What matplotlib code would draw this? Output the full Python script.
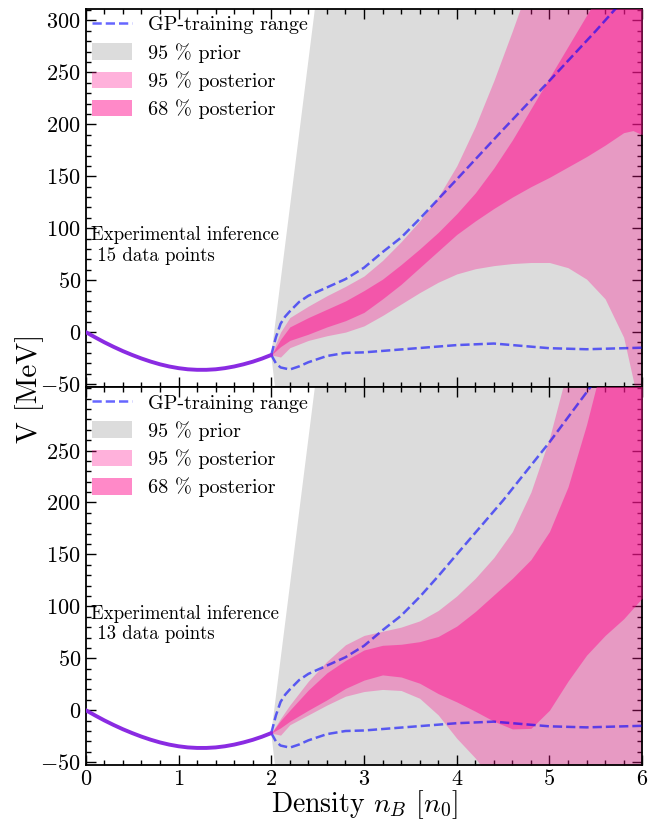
import matplotlib
matplotlib.use("Agg")
import matplotlib.pyplot as plt
from matplotlib.ticker import MultipleLocator

plt.rcParams['font.family'] = 'serif'
plt.rcParams['font.serif'] = ['cmr10', 'DejaVu Serif']
plt.rcParams['mathtext.fontset'] = 'cm'
plt.rcParams['axes.formatter.use_mathtext'] = True
plt.rcParams['axes.unicode_minus'] = True

# ---------------- data ----------------
# known low-density potential
x_low = [0.0, 0.1, 0.2, 0.3, 0.4, 0.5, 0.6, 0.7, 0.8, 0.9, 1.0, 1.1, 1.2,
         1.3, 1.4, 1.5, 1.6, 1.7, 1.8, 1.9, 2.0]
v_low = [0.0, -5.0, -9.8, -14.2, -18.3, -22.0, -25.4, -28.4, -31.0, -33.1,
         -34.7, -35.8, -36.3, -36.3, -35.8, -34.7, -33.1, -31.0, -28.5, -25.5, -22.0]

# prior (95 %)
x_prior = [2.0, 6.0]
prior_hi = [-22, 2810]
prior_lo = [-22, -3122]

# GP-training range (dashed)
x_gp_hi = [2.0, 2.05, 2.1, 2.15, 2.2, 2.3, 2.4, 2.6, 2.8, 3.0, 3.2, 3.4, 3.6,
           3.8, 4.0, 4.5, 5.0, 5.5, 6.0]
gp_hi_15 = [-22, -5, 8, 15, 20, 29, 35, 43, 51, 62, 77, 91, 109, 128, 147, 195,
            242, 290, 340]
gp_hi_13 = [-22, -5, 8, 15, 20, 29, 35, 43, 51, 62, 77, 91, 109, 129, 150, 202,
            258, 318, 380]
x_gp_lo = [2.0, 2.05, 2.1, 2.2, 2.3, 2.4, 2.6, 2.8, 3.0, 3.5, 4.0, 4.4, 5.0, 5.4, 6.0]
gp_lo = [-22, -30, -34, -36, -33, -29, -23, -20, -19.5, -16, -12.5, -11, -15.5,
         -16.5, -15]

# posterior bands
x_band = [2.0, 2.1, 2.2, 2.4, 2.6, 2.8, 3.0, 3.2, 3.4, 3.6, 3.8, 4.0,
          4.2, 4.4, 4.6, 4.8, 5.0, 5.2, 5.4, 5.6, 5.8, 5.9, 6.0]

# 15 data points
p95_hi_15 = [-22, 0, 14, 25, 35, 44, 54, 69, 87, 107, 130, 160,
             198, 242, 290, 340, 392, 445, 500, 550, 600, 625, 650]
p95_lo_15 = [-22, -24, -15, -8, -3.5, 0, 6, 16, 27, 38, 48, 56,
             61, 64, 66, 67, 67, 62, 51, 32, -5, -45, -90]
p68_hi_15 = [-22, -7, 5, 14, 22, 30, 40, 51, 65, 80, 96, 114,
             134, 158, 185, 215, 245, 275, 305, 335, 365, 380, 395]
p68_lo_15 = [-22, -14, -8, -2, 5, 11, 19, 32, 46, 62, 78, 94,
             107, 119, 130, 140, 149, 159, 169, 180, 192, 194, 190]

# 13 data points
p95_hi_13 = [-22, -8, 5, 28, 47, 63, 72, 76, 80, 86, 96, 110,
             127, 147, 172, 210, 262, 330, 400, 470, 540, 575, 610]
p95_lo_13 = [-22, -24, -14, -4.5, 5, 13.5, 18, 20, 19, 11.5, -4.5, -27,
             -46, -70, -90, -100, -100, -100, -100, -100, -100, -100, -100]
p68_hi_13 = [-22, -10, 0, 19.5, 36, 48, 58, 62.5, 63.5, 66, 71, 81,
             95, 111, 127, 145, 172, 215, 275, 345, 415, 450, 485]
p68_lo_13 = [-22, -17, -10.6, 0, 10, 21, 29, 34, 32, 26, 16, 8,
             -1, -10.6, -18, -17.5, 0, 28, 53, 72, 88, 98, 108]

labels = ["GP-training range", "95 % prior", "95 % posterior", "68 % posterior"]
n_points = ["15", "13"]

# ---------------- figure ----------------
fig = plt.figure(figsize=(6.5, 8.22), dpi=100)
L, R = 0.132, 0.988
top, mid, bot = 0.989, 0.529, 0.069
ax1 = fig.add_axes([L, mid, R - L, top - mid])
ax2 = fig.add_axes([L, bot, R - L, mid - bot], sharex=ax1)

pink = '#ff1493'
gray = '#dcdcdc'
dash_col = 'blue'
purple = '#8a2be2'

bands = [(p95_hi_15, p95_lo_15, p68_hi_15, p68_lo_15, gp_hi_15),
         (p95_hi_13, p95_lo_13, p68_hi_13, p68_lo_13, gp_hi_13)]

for ax, (h95, l95, h68, l68, ghi), npts in zip([ax1, ax2], bands, n_points):
    hp = ax.fill_between(x_prior, prior_lo, prior_hi, color=gray, lw=0, zorder=1)
    h95p = ax.fill_between(x_band, l95, h95, color=pink, alpha=0.33, lw=0, zorder=2)
    h68p = ax.fill_between(x_band, l68, h68, color=pink, alpha=0.5, lw=0, zorder=3)
    hd, = ax.plot(x_gp_hi, ghi, ls='--', color=dash_col, alpha=0.6, lw=1.8, zorder=4)
    ax.plot(x_gp_lo, gp_lo, ls='--', color=dash_col, alpha=0.6, lw=1.8, zorder=4)
    ax.plot(x_low, v_low, color=purple, lw=2.8, zorder=5, solid_capstyle='round')

    ax.set_xlim(0, 6)
    ax.set_ylim(-53, 311)
    ax.xaxis.set_major_locator(MultipleLocator(1))
    ax.xaxis.set_minor_locator(MultipleLocator(0.2))
    ax.yaxis.set_major_locator(MultipleLocator(50))
    ax.yaxis.set_minor_locator(MultipleLocator(10))
    ax.tick_params(which='both', direction='in', top=True, right=True,
                   labelsize=16, width=1.0)
    ax.tick_params(which='major', length=7)
    ax.tick_params(which='minor', length=3.5)
    for s in ax.spines.values():
        s.set_linewidth(1.3)

    ax.legend([hd, hp, h95p, h68p], labels, loc='upper left',
              bbox_to_anchor=(0.0, 1.0), frameon=False, fontsize=14.5,
              handlelength=2.0, handleheight=0.9, labelspacing=0.42,
              borderaxespad=0.1, borderpad=0.2, handletextpad=0.8)
    ax.text(0.06, 83, "Experimental inference\n " + npts + " data points",
            fontsize=13.5, va='center', ha='left', zorder=6)

ax1.tick_params(labelbottom=False)
ax2.set_yticks([-50, 0, 50, 100, 150, 200, 250])
ax2.set_ylim(-53, 311)
ax2.tick_params(axis='x', pad=3)
ax2.set_xlabel(r'Density $n_B$ $[n_0]$', fontsize=20, labelpad=-1)
fig.text(0.045, 0.528, 'V [MeV]', rotation=90, fontsize=21,
         ha='center', va='center')

fig.savefig('out.png', dpi=100)
